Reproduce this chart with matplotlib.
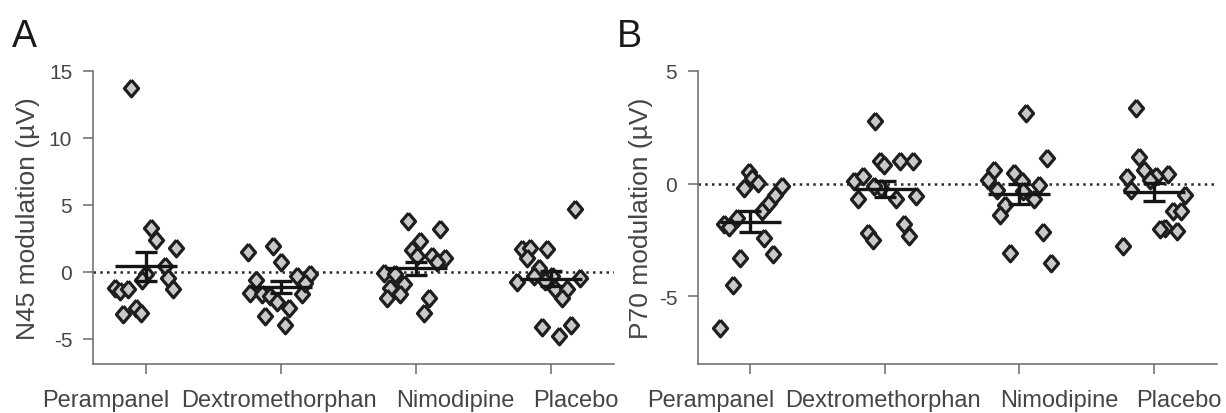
import matplotlib
matplotlib.use('Agg')
import matplotlib.pyplot as plt
import numpy as np
from matplotlib.markers import MarkerStyle
from matplotlib.transforms import ScaledTranslation

plt.rcParams['font.family'] = ['Liberation Sans', 'DejaVu Sans']
plt.rcParams['axes.unicode_minus'] = False

drugs = ['Perampanel', 'Dextromethorphan', 'Nimodipine', 'Placebo']

# N45 modulation (uV), one value per participant, plus the horizontal jitter used in the figure
n45_per = [13.7, 3.3, 2.4, 1.8, 0.4, -0.45, -1.3, -0.2, -0.6, -1.2, -1.45, -1.3, -3.2, -2.7, -3.1]
n45_per_dx = [-0.106, 0.042, 0.074, 0.227, 0.141, 0.165, 0.202, 0.0, -0.025, -0.23, -0.193, -0.131, -0.169, -0.069, -0.033]
n45_dex = [1.5, 1.9, 0.7, -0.6, -1.6, -1.7, -1.84, -2.3, -2.7, -3.3, -4.0, -0.35, -0.2, -1.7, -0.85]
n45_dex_dx = [-0.242, -0.059, 0.005, -0.183, -0.224, -0.139, -0.076, -0.027, 0.059, -0.119, 0.03, 0.121, 0.22, 0.158, 0.183]
n45_nim = [3.8, 3.2, 2.3, 1.6, 1.2, 1.2, 1.05, 0.7, -0.1, -0.2, -1.2, -0.95, -2.0, -1.7, -1.95, -3.1]
n45_nim_dx = [-0.059, 0.183, 0.035, -0.027, 0.01, 0.121, 0.22, 0.158, -0.237, -0.15, -0.187, -0.089, -0.213, -0.119, 0.096, 0.059]
n45_pla = [4.7, 1.7, 1.8, 1.7, 1.05, 0.3, -0.3, -0.8, -0.3, -0.7, -1.3, -1.3, -0.45, -1.95, -4.1, -4.8, -3.95]
n45_pla_dx = [0.183, -0.213, -0.15, -0.027, -0.176, -0.089, -0.126, -0.25, 0.01, -0.039, 0.035, 0.121, 0.22, 0.084, -0.064, 0.059, 0.153]

# P70 modulation (uV)
p70_per = [-6.4, -4.5, -3.3, -1.8, -1.9, -1.5, -0.2, 0.5, 0.25, 0.03, -2.4, -3.1, -1.2, -0.85, -0.5, -0.1]
p70_per_dx = [-0.228, -0.131, -0.074, -0.198, -0.161, -0.099, -0.045, -0.013, 0.013, 0.054, 0.099, 0.169, 0.087, 0.136, 0.186, 0.236]
p70_dex = [2.76, 1.0, 0.84, 1.0, 1.0, 0.13, 0.32, -0.7, -2.2, -2.5, -1.8, -2.3, -0.7, -0.56, -0.2, -0.1]
p70_dex_dx = [-0.074, -0.035, -0.005, 0.114, 0.206, -0.228, -0.166, -0.198, -0.129, -0.091, 0.143, 0.18, 0.082, 0.23, -0.03, -0.08]
p70_nim = [3.13, 1.14, 0.62, 0.18, 0.47, 0.1, -0.04, -0.27, -0.34, -0.7, -0.93, -1.37, -2.14, -3.07, -3.54]
p70_nim_dx = [0.052, 0.206, -0.191, -0.235, -0.042, 0.02, 0.143, -0.166, 0.03, 0.106, -0.104, -0.141, 0.176, -0.072, 0.236]
p70_pla = [3.38, 1.2, 0.62, 0.43, 0.32, 0.18, 0.28, -0.27, -0.52, -1.22, -1.22, -1.96, -2.03, -2.1, -2.77]
p70_pla_dx = [-0.136, -0.109, -0.074, 0.106, 0.02, -0.03, -0.198, -0.166, 0.23, 0.143, 0.2, 0.082, 0.045, 0.169, -0.228]

diamond = MarkerStyle([(0, 1), (0.85, 0), (0, -1), (-0.85, 0), (0, 1)], joinstyle='miter')
axis_grey = '#6a6a6a'
text_grey = '#454545'


def panel(ax, groups, jitters, ylim, yticks, ylabel, label_x):
    ax.axhline(0, color='#2a2a2a', lw=1.8, ls=(0, (1, 1.7)), zorder=1)
    for i, (vals, dx) in enumerate(zip(groups, jitters)):
        vals = np.array(vals)
        ax.plot(i + np.array(dx), vals, ls='none', marker=diamond, ms=12,
                mfc='#c9c9c9', mec='#1e1e1e', mew=2.3, zorder=2)
        m = vals.mean()
        sem = vals.std(ddof=1) / np.sqrt(len(vals))
        ax.hlines(m, i - 0.23, i + 0.23, color='#151515', lw=2.4, zorder=3)
        ax.errorbar(i, m, yerr=sem, fmt='none', ecolor='#151515', elinewidth=2.4,
                    capsize=8, capthick=2.4, zorder=3)

    ax.set_xlim(-0.39, 3.47)
    ax.set_ylim(*ylim)
    ax.set_yticks(yticks)
    ax.set_xticks(range(4))
    ax.set_xticklabels(drugs)
    for s in ['top', 'right']:
        ax.spines[s].set_visible(False)
    for s in ['left', 'bottom']:
        ax.spines[s].set_color(axis_grey)
        ax.spines[s].set_linewidth(1.1)
    ax.tick_params(direction='out', length=7, width=1.1, color=axis_grey, labelcolor=text_grey)
    ax.tick_params(axis='y', labelsize=15, pad=8)
    ax.tick_params(axis='x', labelsize=17, pad=11)
    ax.set_ylabel(ylabel, fontsize=19, color=text_grey)
    ax.yaxis.set_label_coords(label_x, 0.5)


fig = plt.figure(figsize=(12.26, 4.14), dpi=100)
axA = fig.add_axes([93 / 1226, 49 / 414, 521 / 1226, 293 / 414])
axB = fig.add_axes([698 / 1226, 49 / 414, 519 / 1226, 293 / 414])

panel(axA, [n45_per, n45_dex, n45_nim, n45_pla], [n45_per_dx, n45_dex_dx, n45_nim_dx, n45_pla_dx],
      (-6.9, 15), [-5, 0, 5, 10, 15], 'N45 modulation (µV)', -0.102)
panel(axB, [p70_per, p70_dex, p70_nim, p70_pla], [p70_per_dx, p70_dex_dx, p70_nim_dx, p70_pla_dx],
      (-8, 5), [-5, 0, 5], 'P70 modulation (µV)', -0.087)

# the category labels sit a bit spread out compared with the ticks
shifts = [-40, -2, 40, 25]
for ax in (axA, axB):
    for tick, sh in zip(ax.xaxis.get_major_ticks(), shifts):
        lab = tick.label1
        lab.set_transform(lab.get_transform() + ScaledTranslation(sh / 100, 0, fig.dpi_scale_trans))

fig.text(12 / 1226, 1 - 47 / 414, 'A', fontsize=27, ha='left', va='baseline', color='#1a1a1a')
fig.text(617 / 1226, 1 - 47 / 414, 'B', fontsize=27, ha='left', va='baseline', color='#1a1a1a')

fig.savefig('out.png', dpi=100)
